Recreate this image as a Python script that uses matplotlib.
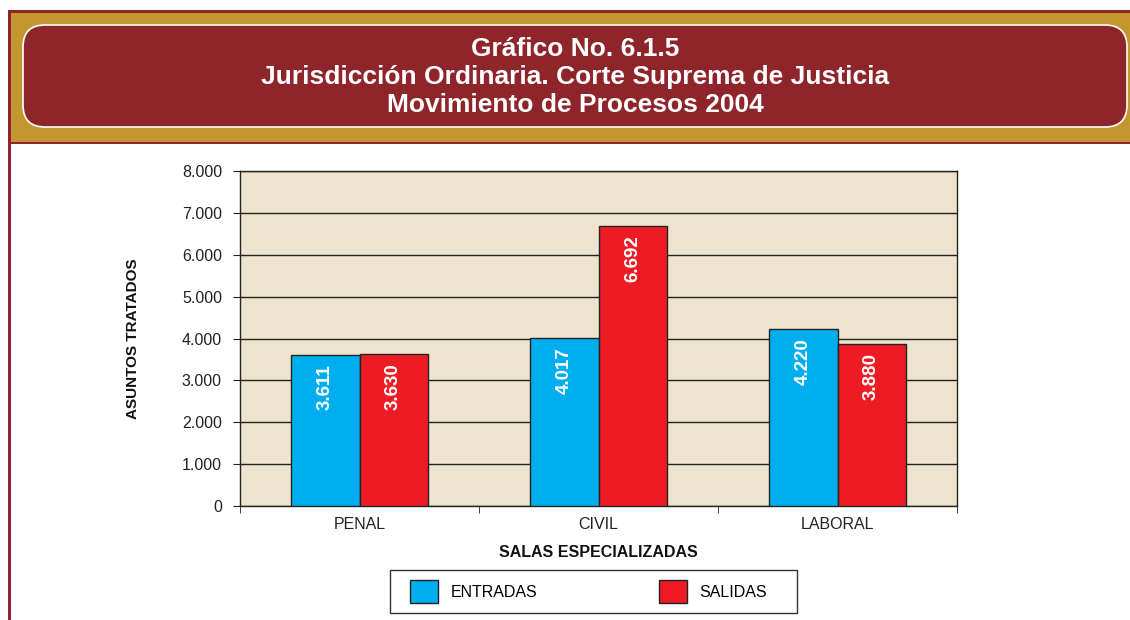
import numpy as np
import matplotlib
matplotlib.use("Agg")
import matplotlib.pyplot as plt
from matplotlib.patches import Rectangle, FancyBboxPatch

plt.rcParams['font.family'] = ['Liberation Sans', 'DejaVu Sans']

# datos
salas = ["PENAL", "CIVIL", "LABORAL"]
entradas = [3611, 4017, 4220]
salidas = [3630, 6692, 3880]
etiquetas_y = ["0", "1.000", "2.000", "3.000", "4.000", "5.000", "6.000", "7.000", "8.000"]

azul = "#00AEEF"
rojo = "#ED1C24"
granate = "#8E252B"
dorado = "#C3962F"
fondo = "#EEE4CD"

W, H = 1130, 620
fig = plt.figure(figsize=(W / 100, H / 100), dpi=100)

# capa de fondo en pixeles para la cabecera
bg = fig.add_axes([0, 0, 1, 1], zorder=0)
bg.set_xlim(0, W)
bg.set_ylim(H, 0)
bg.axis("off")
bg.add_patch(Rectangle((8, 10), W - 8, 134, facecolor=dorado, edgecolor="none"))
bg.add_patch(Rectangle((8, 10), W - 8, 2.5, facecolor=granate, edgecolor="none"))
bg.add_patch(Rectangle((8, 141.5), W - 8, 2.5, facecolor=granate, edgecolor="none"))
bg.add_patch(Rectangle((8, 10), 2.5, H - 10, facecolor=granate, edgecolor="none"))
bg.add_patch(FancyBboxPatch((23, 25), 1104, 102, boxstyle="round,pad=0,rounding_size=22",
                            facecolor=granate, edgecolor="white", linewidth=1.2))
bg.text(575, 77, "Gráfico No. 6.1.5\nJurisdicción Ordinaria. Corte Suprema de Justicia\nMovimiento de Procesos 2004",
        color="white", fontsize=19, fontweight="bold", ha="center", va="center", linespacing=1.22)

# marco de la leyenda
bg.add_patch(Rectangle((390, 570), 407, 43, facecolor="white", edgecolor="#333333", linewidth=1))

# grafico principal
ax = fig.add_axes([240 / W, 1 - 506 / H, 717 / W, 335 / H], zorder=1)
ax.set_facecolor(fondo)
x = np.arange(len(salas))
ancho = 0.285
b1 = ax.bar(x - ancho / 2, entradas, ancho, color=azul, edgecolor="#222222", linewidth=1, zorder=3, label="ENTRADAS")
b2 = ax.bar(x + ancho / 2, salidas, ancho, color=rojo, edgecolor="#222222", linewidth=1, zorder=3, label="SALIDAS")

for barras, vals in [(b1, entradas), (b2, salidas)]:
    for b, v in zip(barras, vals):
        txt = f"{v:,}".replace(",", ".")
        ax.annotate(txt, (b.get_x() + b.get_width() / 2, v), xytext=(0, -6.5), textcoords="offset points",
                    rotation=90, ha="center", va="top", color="white", fontsize=13.5, fontweight="bold", zorder=4)

ax.set_xlim(-0.5, 2.5)
ax.set_ylim(0, 8000)
ax.set_yticks(np.arange(0, 8001, 1000))
ax.set_yticklabels(etiquetas_y)
ax.yaxis.grid(True, color="#222222", linewidth=1)
ax.set_axisbelow(True)
ax.set_xticks(x)
ax.set_xticklabels(salas)
ax.set_xticks([-0.5, 0.5, 1.5, 2.5], minor=True)
ax.tick_params(axis="x", which="major", length=0, pad=8, labelsize=11.5, colors="#222222")
ax.tick_params(axis="x", which="minor", length=5, direction="out", color="#222222")
ax.tick_params(axis="y", length=5, direction="out", labelsize=11.5, colors="#222222", pad=8)
for s in ax.spines.values():
    s.set_color("#222222")
    s.set_linewidth(1)

ax.set_xlabel("SALAS ESPECIALIZADAS", fontsize=11.5, fontweight="bold", labelpad=9, color="#111111")
ax.set_ylabel("ASUNTOS TRATADOS", fontsize=11, fontweight="bold", labelpad=30, color="#111111")

leg = fig.legend(handles=[b1, b2], labels=["ENTRADAS", "SALIDAS"], ncol=2,
                 loc="center", bbox_to_anchor=(588.5 / W, 1 - 591.5 / H),
                 frameon=False, fontsize=11.5,
                 handlelength=1.75, handleheight=1.75, columnspacing=7.6, handletextpad=0.8,
                 borderpad=0, borderaxespad=0)

fig.savefig("out.png", dpi=100)
